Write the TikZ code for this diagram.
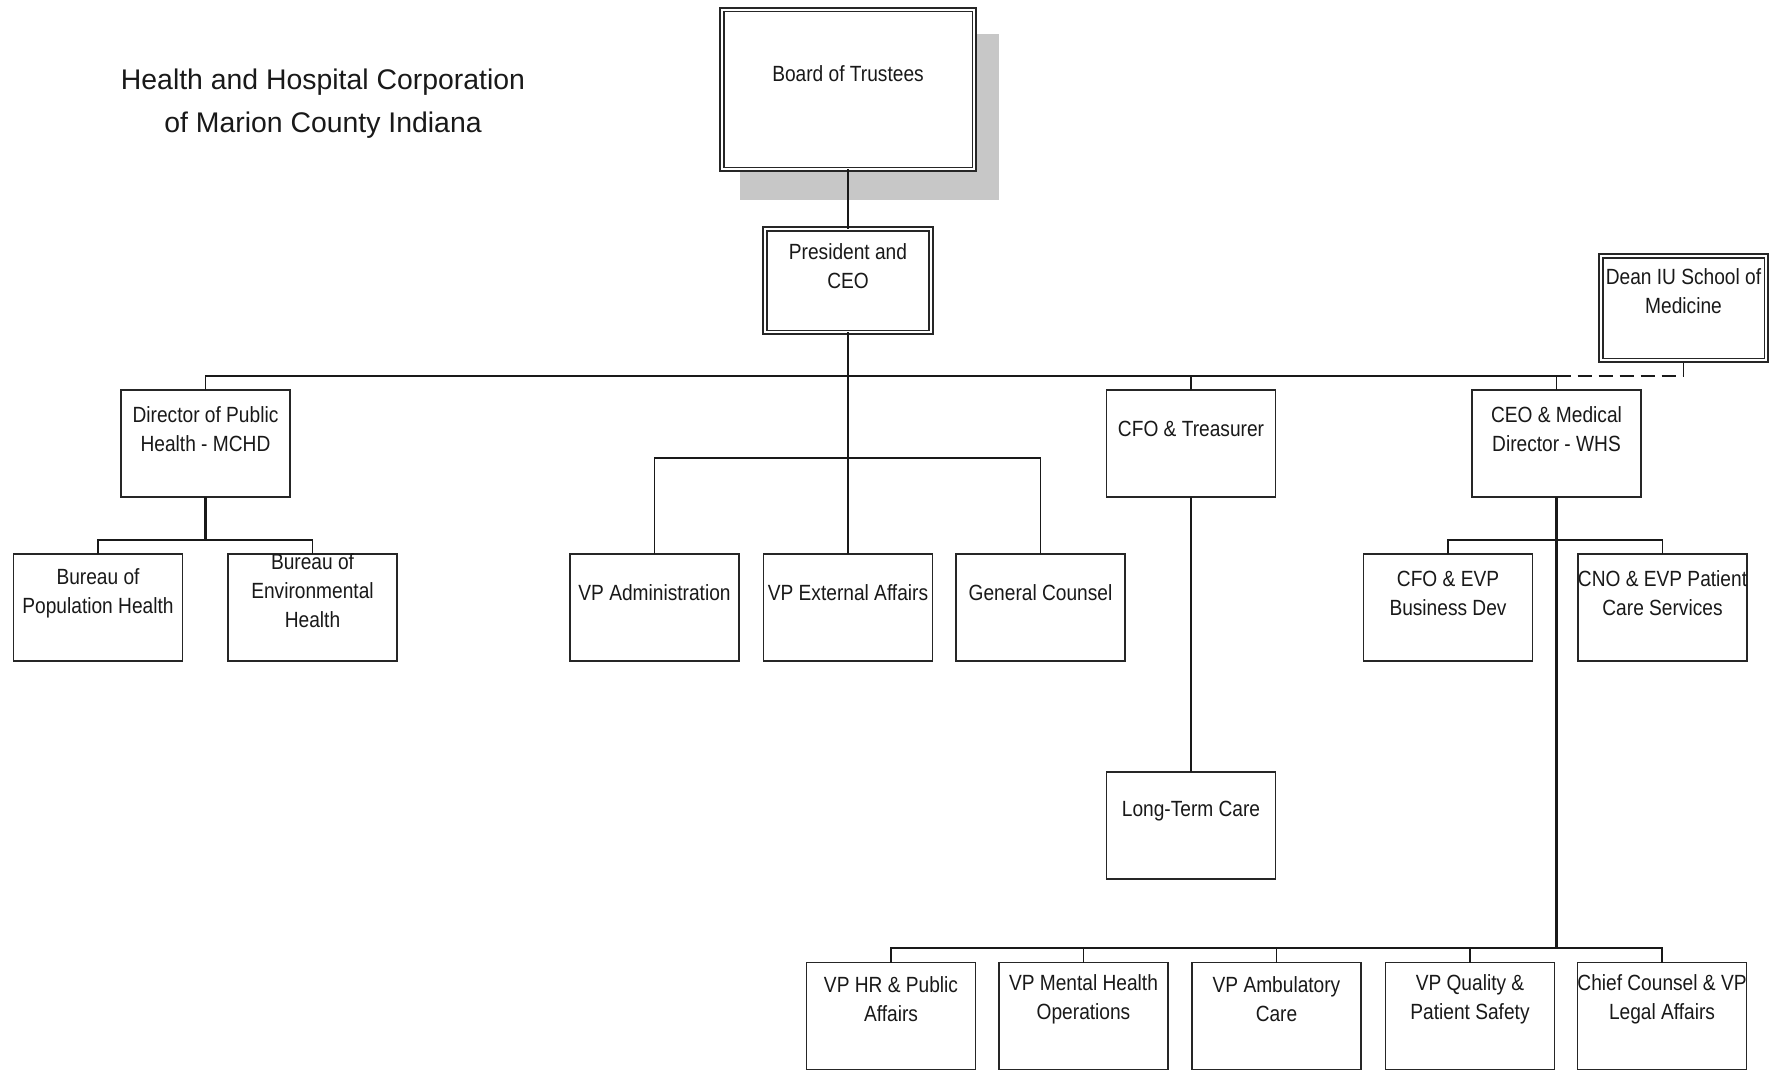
\documentclass[tikz,border=0pt]{standalone}
\usepackage{fontspec}
\setmainfont{Liberation Sans}
\newfontfamily\boxfont[FakeStretch=0.87]{Liberation Sans}
\begin{document}
\begin{tikzpicture}[x=0.5pt,y=-0.5pt,
  box/.style={draw=black!85, line width=0.85pt, fill=white, minimum width=84.5pt, minimum height=53.5pt, inner sep=0pt, outer sep=0pt},
  dbox/.style={draw=black!85, line width=0.85pt, double=white, double distance=1.1pt, fill=white, inner sep=0pt, outer sep=0pt},
  lbl/.style={font=\boxfont\fontsize{11pt}{14.5pt}\selectfont, align=center, text=black!90, inner sep=0pt, anchor=center, yshift=#1},
  lbl/.default=-19.5pt,
  conn/.style={draw=black!90, line width=0.95pt},
  thickconn/.style={conn, line width=1.4pt},
  dashconn/.style={conn, dash pattern=on 7pt off 3.5pt},
  shadow/.style={fill=black!22}
]
\useasboundingbox (0,0) rectangle (1781,1070);
\fill[white] (0,0) rectangle (1781,1070);

% title
\node[font=\fontsize{14.2pt}{21.5pt}\selectfont, align=center, text=black!90, inner sep=0pt] (title) at (323,103.5) {Health and Hospital Corporation\\of Marion County Indiana};

% board with shadow
\fill[shadow] (740,34) rectangle (999,200);
\node[dbox, minimum width=126.3pt, minimum height=79.8pt, label={[lbl=-32.2pt]north:{Board of Trustees}}] (board) at (848,89.5) {};

\node[dbox, minimum width=82.8pt, minimum height=51.8pt, label={[lbl=-18.7pt]north:{President and\\CEO}}] (pres) at (848,280.5) {};
\node[dbox, minimum width=82.8pt, minimum height=52.3pt, label={[lbl=-17.7pt]north:{Dean IU School of\\Medicine}}] (dean) at (1683.5,308) {};

% second level
\node[box, label={[lbl]north:{Director of Public\\Health - MCHD}}] (dir) at (205.5,443.5) {};
\node[box, label={[lbl]north:{CFO \& Treasurer}}] (cfo) at (1191,443.5) {};
\node[box, label={[lbl]north:{CEO \& Medical\\Director - WHS}}] (ceo) at (1556.5,443.5) {};

% third level
\node[box, label={[lbl]north:{Bureau of\\Population Health}}] (bpop) at (98,607.5) {};
\node[box, label={[lbl=-18.5pt]north:{Bureau of\\Environmental\\Health}}] (benv) at (312.5,607.5) {};
\node[box, label={[lbl]north:{VP Administration}}] (vpadm) at (654.5,607.5) {};
\node[box, label={[lbl]north:{VP External Affairs}}] (vpext) at (848,607.5) {};
\node[box, label={[lbl]north:{General Counsel}}] (gc) at (1040.5,607.5) {};
\node[box, label={[lbl]north:{CFO \& EVP\\Business Dev}}] (cfoevp) at (1448,607.5) {};
\node[box, label={[lbl]north:{CNO \& EVP Patient\\Care Services}}] (cno) at (1662.5,607.5) {};

\node[box, label={[lbl]north:{Long-Term Care}}] (ltc) at (1191,825.5) {};

% bottom row
\node[box, label={[lbl=-18.5pt]north:{VP HR \& Public\\Affairs}}] (hr) at (891,1016) {};
\node[box, label={[lbl=-18.5pt]north:{VP Mental Health\\Operations}}] (mh) at (1083.5,1016) {};
\node[box, label={[lbl=-18.5pt]north:{VP Ambulatory\\Care}}] (amb) at (1276.5,1016) {};
\node[box, label={[lbl=-18.5pt]north:{VP Quality \&\\Patient Safety}}] (qual) at (1470,1016) {};
\node[box, label={[lbl=-18.5pt]north:{Chief Counsel \& VP\\Legal Affairs}}] (chief) at (1662,1016) {};

% bus coordinates
\coordinate (bus) at (0,376);
\coordinate (sub) at (0,458);
\coordinate (dbus) at (0,540);
\coordinate (bbus) at (0,948);

% connectors
\draw[conn] (board.south) -- (pres.north);
\draw[conn] (pres.south) -- (vpext.north);
\draw[conn] (dir.north) |- (bus -| ceo.north) -- (ceo.north);
\draw[conn] (cfo.north) -- (cfo.north |- bus);
\draw[dashconn] (ceo.north |- bus) -| (dean.south);
\draw[conn] (vpadm.north) |- (sub -| gc.north) -- (gc.north);
\draw[thickconn] (dir.south) -- (dir.south |- dbus);
\draw[conn] (bpop.north) |- (dbus -| benv.north) -- (benv.north);
\draw[conn] (cfo.south) -- (ltc.north);
\draw[thickconn] (ceo.south) -- (ceo.south |- bbus);
\draw[conn] (cfoevp.north) |- (dbus -| cno.north) -- (cno.north);
\draw[conn] (hr.north) |- (bbus -| chief.north) -- (chief.north);
\foreach \n in {mh,amb,qual} \draw[conn] (\n.north) -- (\n.north |- bbus);
\end{tikzpicture}
\end{document}
